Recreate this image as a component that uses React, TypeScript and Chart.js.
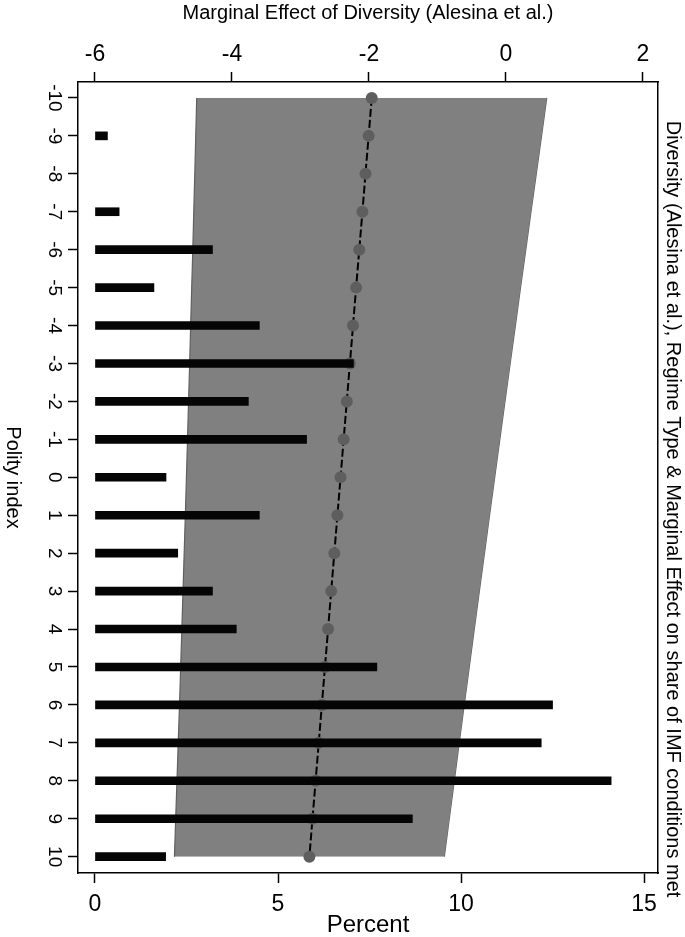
import { useEffect, useRef } from "react";
import { Chart, registerables } from "chart.js";

Chart.register(...registerables);

// Polity index (y axis, -10 at top)
const polity = [-10, -9, -8, -7, -6, -5, -4, -3, -2, -1, 0, 1, 2, 3, 4, 5, 6, 7, 8, 9, 10];
// Percent of observations (bars, bottom axis); null = no bar drawn
const percent = [null, 0.34, null, 0.66, 3.21, 1.61, 4.49, 7.06, 4.19, 5.78, 1.94, 4.49, 2.26, 3.21, 3.86, 7.7, 12.5, 12.19, 14.1, 8.67, 1.93];
// Marginal effect of diversity (top axis)
const marginalEffect = [-1.96, -2.005, -2.051, -2.096, -2.142, -2.188, -2.233, -2.279, -2.324, -2.37, -2.415, -2.461, -2.506, -2.552, -2.597, -2.643, -2.688, -2.734, -2.779, -2.825, -2.87];
const ciLower = [-4.515, -4.529, -4.543, -4.558, -4.572, -4.588, -4.603, -4.618, -4.634, -4.649, -4.665, -4.681, -4.698, -4.715, -4.732, -4.749, -4.766, -4.785, -4.803, -4.822, -4.84];
const ciUpper = [0.595, 0.519, 0.442, 0.365, 0.289, 0.212, 0.137, 0.061, -0.015, -0.09, -0.165, -0.24, -0.314, -0.389, -0.463, -0.536, -0.61, -0.683, -0.755, -0.828, -0.9];

const percentTicks = [0, 5, 10, 15];
const effectTicks = [-6, -4, -2, 0, 2];
const polityTicks = [-10, -9, -8, -7, -6, -5, -4, -3, -2, -1, 0, 1, 2, 3, 4, 5, 6, 7, 8, 9, 10];

const topTitle = "Marginal Effect of Diversity (Alesina et al.)";
const bottomTitle = "Percent";
const leftTitle = "Polity index";
const rightTitle = "Diversity (Alesina et al.), Regime Type & Marginal Effect on share of IMF conditions met";

const FONT = '"Liberation Sans", Arial, sans-serif';

const textPlugin = {
  id: "rotatedTexts",
  afterDraw(chart: any) {
    const ctx = chart.ctx;
    const yScale = chart.scales.y;
    const area = chart.chartArea;
    ctx.save();
    ctx.fillStyle = "#000";
    ctx.textAlign = "center";
    ctx.textBaseline = "middle";
    ctx.font = `19px ${FONT}`;
    polityTicks.forEach((v) => {
      const py = yScale.getPixelForValue(v);
      ctx.save();
      ctx.translate(54, py);
      ctx.rotate(Math.PI / 2);
      ctx.fillText(String(v), 0, 0);
      ctx.restore();
    });
    ctx.font = `20px ${FONT}`;
    ctx.save();
    ctx.translate(13, (area.top + area.bottom) / 2);
    ctx.rotate(Math.PI / 2);
    ctx.fillText(leftTitle, 0, 0);
    ctx.restore();
    ctx.save();
    ctx.translate(673, 509);
    ctx.rotate(Math.PI / 2);
    ctx.fillText(rightTitle, 0, 0);
    ctx.restore();
    ctx.restore();
  },
};

const axisLine = { display: true, color: "#000", width: 1.5 };
const tickGrid = { offset: false, drawOnChartArea: false, drawTicks: true, tickLength: 10, tickWidth: 1.5, tickColor: "#000", color: "#000" };

export default function App() {
  const ref = useRef<HTMLCanvasElement | null>(null);
  useEffect(() => {
    if (!ref.current) return;
    const yMin = -10.42;
    const yMax = 10.43;
    const barShift = 0.105;
    const chart = new Chart(ref.current, {
      type: "bar",
      data: {
        datasets: [
          {
            type: "bar",
            label: "Percent",
            indexAxis: "y",
            xAxisID: "x",
            yAxisID: "yBar",
            data: polity.map((p, i) => ({ x: percent[i], y: p })),
            backgroundColor: "#050505",
            borderWidth: 0,
            barThickness: 8,
            order: 0,
          } as any,
          {
            type: "line",
            label: "Marginal effect",
            indexAxis: "y",
            xAxisID: "xTop",
            yAxisID: "y",
            data: polity.map((p, i) => ({ x: marginalEffect[i], y: p })),
            borderColor: "#000",
            borderWidth: 2,
            borderDash: [8, 3],
            pointRadius: 6,
            pointBackgroundColor: "#5e5e5e",
            pointBorderWidth: 0,
            fill: false,
            order: 1,
          } as any,
          {
            type: "line",
            label: "CI lower",
            indexAxis: "y",
            xAxisID: "xTop",
            yAxisID: "y",
            data: polity.map((p, i) => ({ x: ciLower[i], y: p })),
            borderColor: "#606060",
            borderWidth: 1.2,
            pointRadius: 0,
            backgroundColor: "#808080",
            fill: "+1",
            order: 2,
          } as any,
          {
            type: "line",
            label: "CI upper",
            indexAxis: "y",
            xAxisID: "xTop",
            yAxisID: "y",
            data: polity.map((p, i) => ({ x: ciUpper[i], y: p })),
            borderColor: "#606060",
            borderWidth: 1.2,
            pointRadius: 0,
            fill: false,
            order: 3,
          } as any,
        ],
      },
      options: {
        animation: false,
        responsive: false,
        layout: { padding: 0 },
        plugins: { legend: { display: false }, tooltip: { enabled: false } },
        scales: {
          x: {
            type: "linear",
            axis: "x",
            position: "bottom",
            offset: false,
            min: -0.464,
            max: 15.38,
            afterBuildTicks: (s: any) => { s.ticks = percentTicks.map((v) => ({ value: v })); },
            afterFit: (s: any) => { s.height = 64; },
            ticks: { color: "#000", padding: 8, font: { family: FONT, size: 23 } },
            grid: tickGrid,
            border: axisLine,
            title: { display: true, text: bottomTitle, color: "#000", padding: { top: 0, bottom: 0 }, font: { family: FONT, size: 24, lineHeight: 1 } },
          },
          xTop: {
            type: "linear",
            axis: "x",
            position: "top",
            offset: false,
            min: -6.248,
            max: 2.219,
            afterBuildTicks: (s: any) => { s.ticks = effectTicks.map((v) => ({ value: v })); },
            afterFit: (s: any) => { s.height = 82; },
            ticks: { color: "#000", padding: 4, font: { family: FONT, size: 23 } },
            grid: tickGrid,
            border: axisLine,
            title: { display: true, text: topTitle, color: "#000", padding: { top: 1, bottom: 0 }, font: { family: FONT, size: 20 } },
          },
          y: {
            type: "linear",
            axis: "y",
            position: "left",
            offset: false,
            reverse: true,
            min: yMin,
            max: yMax,
            afterBuildTicks: (s: any) => { s.ticks = polityTicks.map((v) => ({ value: v })); },
            afterFit: (s: any) => { s.width = 78; },
            ticks: { display: false },
            grid: tickGrid,
            border: axisLine,
          },
          yBar: {
            type: "linear",
            axis: "y",
            position: "left",
            offset: false,
            reverse: true,
            min: yMin - barShift,
            max: yMax - barShift,
            afterFit: (s: any) => { s.width = 0; },
            ticks: { display: false },
            grid: { display: false },
            border: { display: false },
          },
          yRight: {
            type: "linear",
            axis: "y",
            position: "right",
            offset: false,
            reverse: true,
            min: yMin,
            max: yMax,
            afterFit: (s: any) => { s.width = 27; },
            ticks: { display: false },
            grid: { display: false },
            border: axisLine,
          },
        },
      } as any,
      plugins: [textPlugin],
    });
    return () => chart.destroy();
  }, []);
  return (
    <div style={{ position: "fixed", left: 0, top: 0, width: 685, height: 937, background: "#fff" }}>
      <canvas ref={ref} width={685} height={937} style={{ display: "block" }} />
    </div>
  );
}
